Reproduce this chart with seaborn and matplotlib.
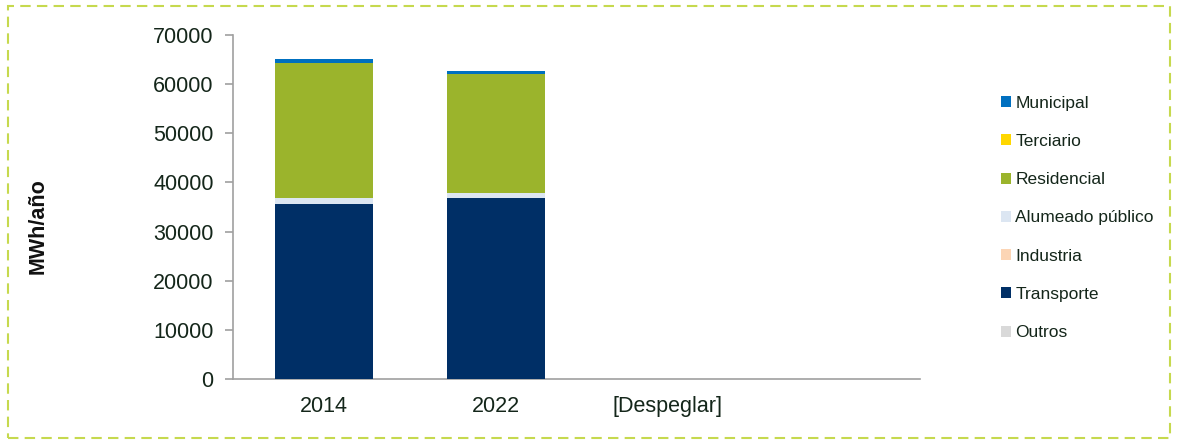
import matplotlib
matplotlib.use("Agg")
import matplotlib.pyplot as plt
import seaborn as sns
import pandas as pd
import numpy as np
from matplotlib.patches import Patch, Rectangle

sns.set_style("white")
plt.rcParams['font.family'] = ['Liberation Sans', 'DejaVu Sans']

categories = ["2014", "2022", "[Despeglar]"]
# bottom -> top stacking order
series = ["Outros", "Transporte", "Industria", "Alumeado público", "Residencial", "Terciario", "Municipal"]
outros = [0, 0, 0]
transporte = [35600, 36900, 0]
industria = [0, 0, 0]
alumeado = [1300, 1000, 0]
residencial = [27400, 24100, 0]
terciario = [0, 0, 0]
municipal = [800, 600, 0]
colors = {"Outros": "#d9d9d9", "Transporte": "#002f66", "Industria": "#fcd5b5",
          "Alumeado público": "#dce6f2", "Residencial": "#9bb42c", "Terciario": "#ffd700",
          "Municipal": "#0070c0"}

values = [outros, transporte, industria, alumeado, residencial, terciario, municipal]
df = pd.DataFrame(dict(zip(series, values)), index=categories)
cum = df.cumsum(axis=1)

fig = plt.figure(figsize=(11.78, 4.44), dpi=100)
ax = fig.add_axes([233/1178, 1-379/444, (920-233)/1178, (379-35)/444])

for i, s in enumerate(reversed(series)):
    d = pd.DataFrame({"cat": categories, "val": cum[s].values})
    sns.barplot(data=d, x="cat", y="val", color=colors[s], width=0.57, ax=ax,
                saturation=1, order=categories, zorder=2 + i, edgecolor="none", linewidth=0)

ax.set_xlim(-0.53, 3.47)
ax.set_ylim(0, 70000)
ax.set_yticks(np.arange(0, 70001, 10000))
ax.set_yticklabels([str(v) for v in range(0, 70001, 10000)])
ax.set_xlabel("")
ax.set_ylabel("")
for s in ["top", "right"]:
    ax.spines[s].set_visible(False)
for s in ["left", "bottom"]:
    ax.spines[s].set_color("#a0a0a0")
    ax.spines[s].set_linewidth(1.2)
ax.tick_params(axis="y", left=True, length=6, width=1.2, color="#a0a0a0",
               labelsize=15.5, labelcolor="#14261a", pad=8)
ax.tick_params(axis="x", bottom=False, labelsize=15.5, labelcolor="#14261a", pad=9)

fig.text(38/1178, 1-226/444, "MWh/año", rotation=90, fontsize=15.5, fontweight="bold",
         ha="center", va="center", color="#111111")

handles = [Patch(facecolor=colors[s], edgecolor="none") for s in reversed(series)]
leg = fig.legend(handles, list(reversed(series)), loc="upper left",
                 bbox_to_anchor=(985/1178, 1-80/444), frameon=False, fontsize=12.5,
                 handlelength=0.6, handleheight=0.6, handletextpad=0.25, labelspacing=1.34,
                 labelcolor="#14261a")

fig.patches.append(Rectangle((8/1178, 6/444), 1162/1178, 432/444, transform=fig.transFigure,
                             fill=False, edgecolor="#c6d94e", linestyle=(0, (5, 3)), linewidth=1.5))

fig.savefig("out.png", dpi=100)
